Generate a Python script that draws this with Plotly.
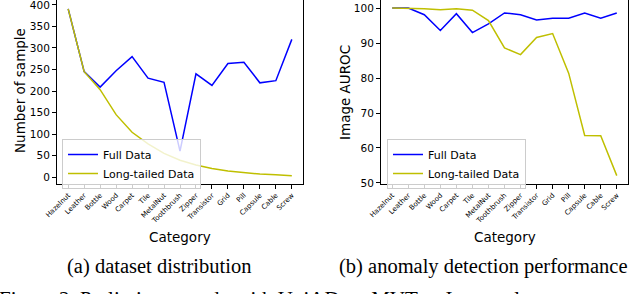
import plotly.graph_objects as go

categories = ["Hazelnut", "Leather", "Bottle", "Wood", "Carpet", "Tile", "MetalNut",
              "Toothbrush", "Zipper", "Transistor", "Grid", "Pill", "Capsule", "Cable", "Screw"]
full_samples = [391, 245, 209, 247, 280, 230, 220, 60, 240, 213, 264, 267, 219, 224, 320]
lt_samples = [391, 245, 203, 145, 104, 77, 55, 39, 28, 20, 14, 10, 7, 5, 3]
full_auroc = [100.0, 100.0, 98.1, 93.6, 98.4, 93.0, 95.5, 98.6, 98.1, 96.6, 97.1, 97.1, 98.6, 97.1, 98.6]
lt_auroc = [100.0, 100.0, 99.8, 99.5, 99.8, 99.4, 96.4, 88.6, 86.7, 91.6, 92.7, 81.4, 63.6, 63.5, 52.1]
left_yticks = [0, 50, 100, 150, 200, 250, 300, 350, 400]
right_yticks = [50, 60, 70, 80, 90, 100]

W, H = 634, 294
def px(x):
    return x / W
def py(y):
    return 1 - y / H

BLUE = "#0000ff"
YEL = "#bfbf00"
SANS = "DejaVu Sans"
SERIF = "Liberation Serif"

fig = go.Figure()
fig.add_trace(go.Scatter(x=categories, y=full_samples, mode="lines", name="Full Data",
                         line=dict(color=BLUE, width=1.5), xaxis="x", yaxis="y", legend="legend"))
fig.add_trace(go.Scatter(x=categories, y=lt_samples, mode="lines", name="Long-tailed Data",
                         line=dict(color=YEL, width=1.5), xaxis="x", yaxis="y", legend="legend"))
fig.add_trace(go.Scatter(x=categories, y=full_auroc, mode="lines", name="Full Data",
                         line=dict(color=BLUE, width=1.5), xaxis="x2", yaxis="y2", legend="legend2"))
fig.add_trace(go.Scatter(x=categories, y=lt_auroc, mode="lines", name="Long-tailed Data",
                         line=dict(color=YEL, width=1.5), xaxis="x2", yaxis="y2", legend="legend2"))

axis_common = dict(showline=True, mirror=True, linecolor="black", linewidth=1,
                   showgrid=False, zeroline=False, ticks="outside", ticklen=4, tickwidth=1,
                   tickcolor="black", automargin=False, ticklabeloverflow="allow")
xcommon = dict(axis_common, type="category", range=[-0.7, 14.7], tickangle=-45,
               tickfont=dict(family=SANS, size=7, color="black"))
ycommon = dict(axis_common, tickfont=dict(family=SANS, size=10.5, color="black"))

legend_common = dict(xanchor="left", yanchor="top", bgcolor="rgba(255,255,255,0.8)",
                     bordercolor="#cccccc", borderwidth=1,
                     font=dict(family=SANS, size=11, color="black"))

fig.update_layout(
    template="none",
    width=W, height=H, margin=dict(l=0, r=0, t=0, b=0, pad=0),
    plot_bgcolor="white", paper_bgcolor="white",
    xaxis=dict(xcommon, domain=[px(57), px(303)], anchor="y"),
    yaxis=dict(ycommon, domain=[py(183.5), 1.0], anchor="x", range=[-15.1, 411.6],
               tickvals=left_yticks),
    xaxis2=dict(xcommon, domain=[px(381), px(628)], anchor="y2"),
    yaxis2=dict(ycommon, domain=[py(183.5), 1.0], anchor="x2", range=[49.85, 102.3],
                tickvals=right_yticks),
    legend=dict(legend_common, x=px(62), y=py(139)),
    legend2=dict(legend_common, x=px(387), y=py(139)),
    showlegend=True,
)

annots = [
    dict(text="Number of sample", x=px(20), y=py(91), textangle=-90, font=dict(family=SANS, size=13.5, color="black")),
    dict(text="Image AUROC", x=px(345), y=py(92), textangle=-90, font=dict(family=SANS, size=13.5, color="black")),
    dict(text="Category", x=px(180), y=py(237), font=dict(family=SANS, size=13.5, color="black")),
    dict(text="Category", x=px(505), y=py(237), font=dict(family=SANS, size=13.5, color="black")),
    dict(text="(a) dataset distribution", x=px(159), y=py(266), font=dict(family=SERIF, size=20.5, color="black")),
    dict(text="(b) anomaly detection performance", x=px(483), y=py(266), font=dict(family=SERIF, size=20.5, color="black")),
]
for a in annots:
    fig.add_annotation(xref="paper", yref="paper", showarrow=False, xanchor="center", yanchor="middle", **a)

fig.add_annotation(text="Figure 2. Preliminary study with UniAD on MVTec. Image-class",
                   xref="paper", yref="paper", x=px(-3), y=py(285), xanchor="left", yanchor="top",
                   showarrow=False, font=dict(family=SERIF, size=21, color="black"))

fig.write_html("out.html", config={"displayModeBar": False},
               post_script="document.body.style.margin='0';document.body.style.overflow='hidden';")
